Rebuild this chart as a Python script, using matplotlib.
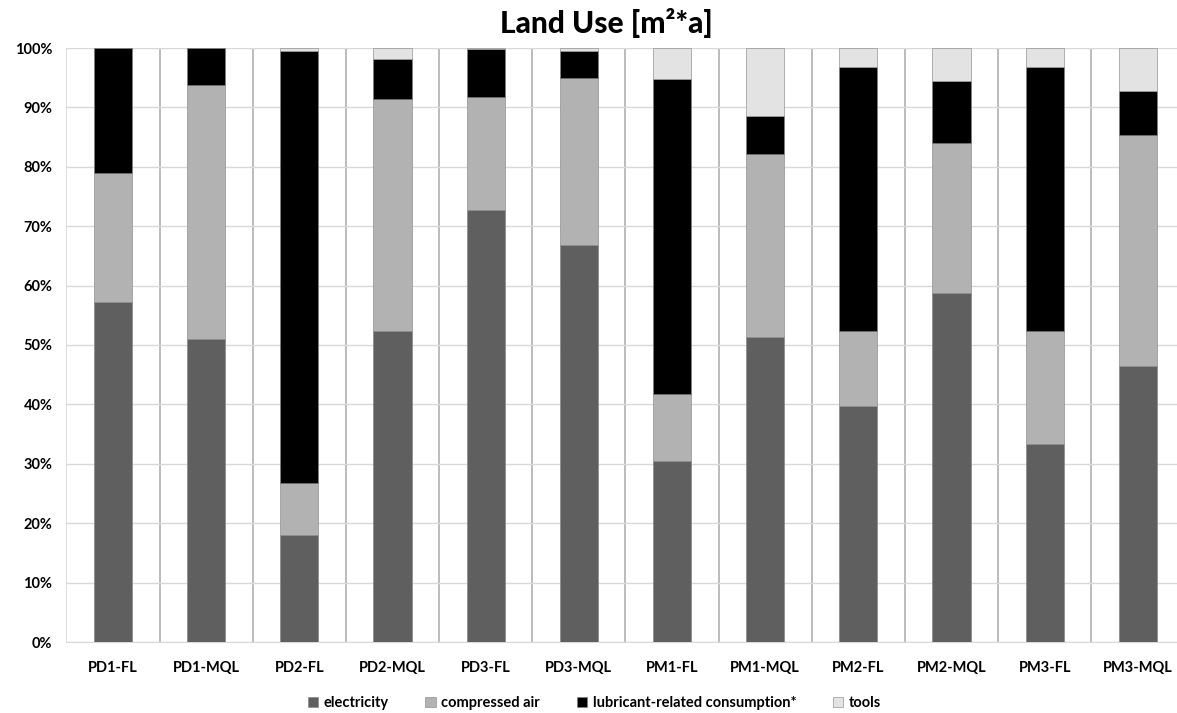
import matplotlib.pyplot as plt
import numpy as np

plt.rcParams['font.family'] = ['Lato', 'DejaVu Sans']

categories = ["PD1-FL", "PD1-MQL", "PD2-FL", "PD2-MQL", "PD3-FL", "PD3-MQL",
              "PM1-FL", "PM1-MQL", "PM2-FL", "PM2-MQL", "PM3-FL", "PM3-MQL"]

# shares in percent
electricity = [57.3, 51.0, 18.0, 52.4, 72.7, 66.8, 30.5, 51.4, 39.7, 58.8, 33.4, 46.5]
compressed_air = [21.7, 42.7, 8.8, 39.0, 19.0, 28.2, 11.2, 30.8, 12.7, 25.2, 19.0, 38.8]
lubricant = [21.0, 6.3, 72.7, 6.8, 8.1, 4.5, 53.1, 6.3, 44.4, 10.4, 44.4, 7.4]
tools = [0.0, 0.0, 0.5, 1.8, 0.2, 0.5, 5.2, 11.5, 3.2, 5.6, 3.2, 7.3]

series = [("electricity", electricity, "#5f5f5f"),
          ("compressed air", compressed_air, "#b2b2b2"),
          ("lubricant-related consumption*", lubricant, "#000000"),
          ("tools", tools, "#e3e3e3")]

fig = plt.figure(figsize=(11.77, 7.13), dpi=100)
ax = fig.add_axes([66.4 / 1177, 71 / 713, 1118 / 1177, 594 / 713])

x = np.arange(len(categories))
bottom = np.zeros(len(categories))
for name, vals, col in series:
    vals = np.array(vals)
    ax.bar(x, vals, 0.41, bottom=bottom, color=col, label=name,
           edgecolor="#7f7f7f", linewidth=0.4, zorder=3)
    bottom += vals

ax.set_xlim(-0.5, len(categories) - 0.5)
ax.set_ylim(0, 100)
ax.set_yticks(np.arange(0, 101, 10))
ax.set_yticklabels([f"{v}%" for v in range(0, 101, 10)])
ax.yaxis.grid(True, color="#d9d9d9", linewidth=1, zorder=0)
for b in np.arange(0.5, len(categories) - 0.5, 1):
    ax.axvline(b, color="#b0b0b0", linewidth=1.2, zorder=1)
ax.axvline(-0.5, color="#d9d9d9", linewidth=1.2, zorder=1)

ax.set_xticks(x)
ax.set_xticklabels(categories)
ax.tick_params(axis="both", length=0, labelsize=10.5)
ax.tick_params(axis="x", pad=14)
ax.tick_params(axis="y", pad=10)
for lbl in ax.get_xticklabels() + ax.get_yticklabels():
    lbl.set_fontweight("bold")
for s in ["top", "right", "left"]:
    ax.spines[s].set_visible(False)
ax.spines["bottom"].set_color("#d9d9d9")

fig.text(0.5155, 0.968, "Land Use [m²*a]", ha="center", va="center",
         fontsize=21.5, fontweight="black")

fig.legend(loc="center", bbox_to_anchor=(0.505, 0.014), ncol=4, frameon=False,
           handlelength=0.7, handleheight=0.7, handletextpad=0.4, columnspacing=2.5,
           prop={"size": 10.5, "weight": "bold"})

fig.savefig("out.png", dpi=100)
